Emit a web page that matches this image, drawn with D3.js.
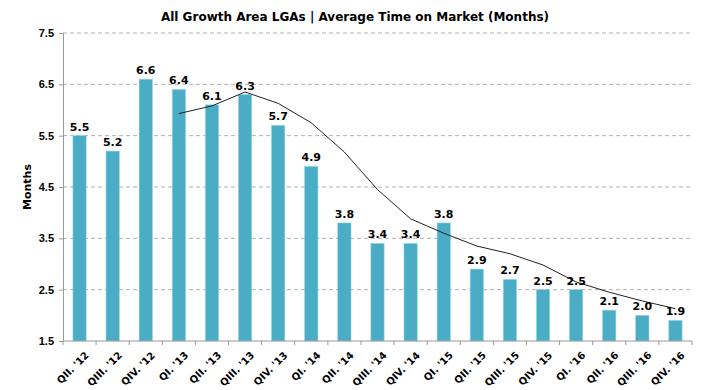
<!DOCTYPE html>
<html>
<head>
<meta charset="utf-8">
<script src="https://cdn.jsdelivr.net/npm/d3@7"></script>
<style>
  body { margin: 0; background: #fff; }
  svg { font-family: "DejaVu Sans", Verdana, sans-serif; }
</style>
</head>
<body>
<svg id="chart" width="709" height="390"></svg>
<script>
const QUARTERS = [
  "QII. '12", "QIII. '12", "QIV. '12", "QI. '13", "QII. '13", "QIII. '13",
  "QIV. '13", "QI. '14", "QII. '14", "QIII. '14", "QIV. '14", "QI. '15",
  "QII. '15", "QIII. '15", "QIV. '15", "QI. '16", "QII. '16", "QIII. '16", "QIV. '16",
];
const MONTHS = [5.5, 5.2, 6.6, 6.4, 6.1, 6.3, 5.7, 4.9, 3.8, 3.4, 3.4, 3.8, 2.9, 2.7, 2.5, 2.5, 2.1, 2.0, 1.9];
// trend line, starts at QI. '13
const TREND_QUARTERS = QUARTERS.slice(3);
const TREND = [5.93, 6.08, 6.35, 6.13, 5.75, 5.18, 4.45, 3.88, 3.6, 3.35, 3.2, 2.98, 2.65, 2.45, 2.28, 2.13];
const Y_TICKS = [1.5, 2.5, 3.5, 4.5, 5.5, 6.5, 7.5];

const MARGIN = { top: 33, right: 17, bottom: 49, left: 63 };
const svg = d3.select("#chart");
const W = 709, H = 390;
const width = W - MARGIN.left - MARGIN.right;
const height = H - MARGIN.top - MARGIN.bottom;

const x = d3.scaleBand().domain(QUARTERS).range([MARGIN.left, MARGIN.left + width]).paddingInner(0.6).paddingOuter(0.3);
const y = d3.scaleLinear().domain([1.5, 7.5]).range([MARGIN.top + height, MARGIN.top]);

// gridlines
svg.append("g")
  .selectAll("line")
  .data(Y_TICKS.slice(1))
  .join("line")
  .attr("x1", MARGIN.left)
  .attr("x2", MARGIN.left + width)
  .attr("y1", (d) => y(d))
  .attr("y2", (d) => y(d))
  .attr("stroke", "#b0b0b0")
  .attr("stroke-dasharray", "4,3");

// bars
svg.append("g")
  .selectAll("rect")
  .data(MONTHS)
  .join("rect")
  .attr("x", (d, i) => x(QUARTERS[i]))
  .attr("y", (d) => y(d))
  .attr("width", x.bandwidth())
  .attr("height", (d) => y(1.5) - y(d))
  .attr("fill", "#4bacc6")
  .attr("stroke", "#8fd3e6")
  .attr("stroke-width", 0.6);

// trend line
const line = d3.line()
  .x((d, i) => x(TREND_QUARTERS[i]) + x.bandwidth() / 2)
  .y((d) => y(d));
svg.append("path")
  .datum(TREND)
  .attr("d", line)
  .attr("fill", "none")
  .attr("stroke", "#222")
  .attr("stroke-width", 1);

// value labels
svg.append("g")
  .selectAll("text")
  .data(MONTHS)
  .join("text")
  .attr("x", (d, i) => x(QUARTERS[i]) + x.bandwidth() / 2)
  .attr("y", (d) => y(d) - 5)
  .attr("text-anchor", "middle")
  .style("font-size", "11px")
  .style("font-weight", "bold")
  .style("fill", "#000")
  .text((d) => d.toFixed(1));

// y axis
const yAxis = svg.append("g")
  .attr("transform", `translate(${MARGIN.left},0)`)
  .call(d3.axisLeft(y).tickValues(Y_TICKS).tickFormat(d3.format(".1f")).tickSize(4));
yAxis.select(".domain").attr("stroke", "#999");
yAxis.selectAll(".tick line").attr("stroke", "#999");
yAxis.selectAll("text")
  .style("font-size", "11px")
  .style("font-weight", "bold")
  .style("fill", "#000")
  .attr("x", -9);

// x axis
const xTickPos = d3.range(QUARTERS.length + 1).map((i) => MARGIN.left + (width * i) / QUARTERS.length);
const xAxis = svg.append("g");
xAxis.append("line")
  .attr("x1", MARGIN.left).attr("x2", MARGIN.left + width)
  .attr("y1", y(1.5)).attr("y2", y(1.5))
  .attr("stroke", "#999");
xAxis.selectAll("line.tk")
  .data(xTickPos)
  .join("line")
  .attr("class", "tk")
  .attr("x1", (d) => d).attr("x2", (d) => d)
  .attr("y1", y(1.5)).attr("y2", y(1.5) + 4)
  .attr("stroke", "#999");
xAxis.selectAll("text")
  .data(QUARTERS)
  .join("text")
  .attr("transform", (d) => `translate(${x(d) + x.bandwidth() / 2 + 5},${y(1.5) + 10}) rotate(-45)`)
  .attr("text-anchor", "end")
  .attr("dy", "0.7em")
  .style("font-size", "10px")
  .style("font-weight", "bold")
  .style("fill", "#000")
  .text((d) => d);

// y label
svg.append("text")
  .attr("transform", `translate(31,${MARGIN.top + height / 2}) rotate(-90)`)
  .attr("text-anchor", "middle")
  .style("font-size", "11px")
  .style("font-weight", "bold")
  .text("Months");

// title
svg.append("text")
  .attr("x", 355)
  .attr("y", 21)
  .attr("text-anchor", "middle")
  .style("font-size", "12px")
  .style("font-weight", "bold")
  .text("All Growth Area LGAs | Average Time on Market (Months)");
</script>
</body>
</html>
